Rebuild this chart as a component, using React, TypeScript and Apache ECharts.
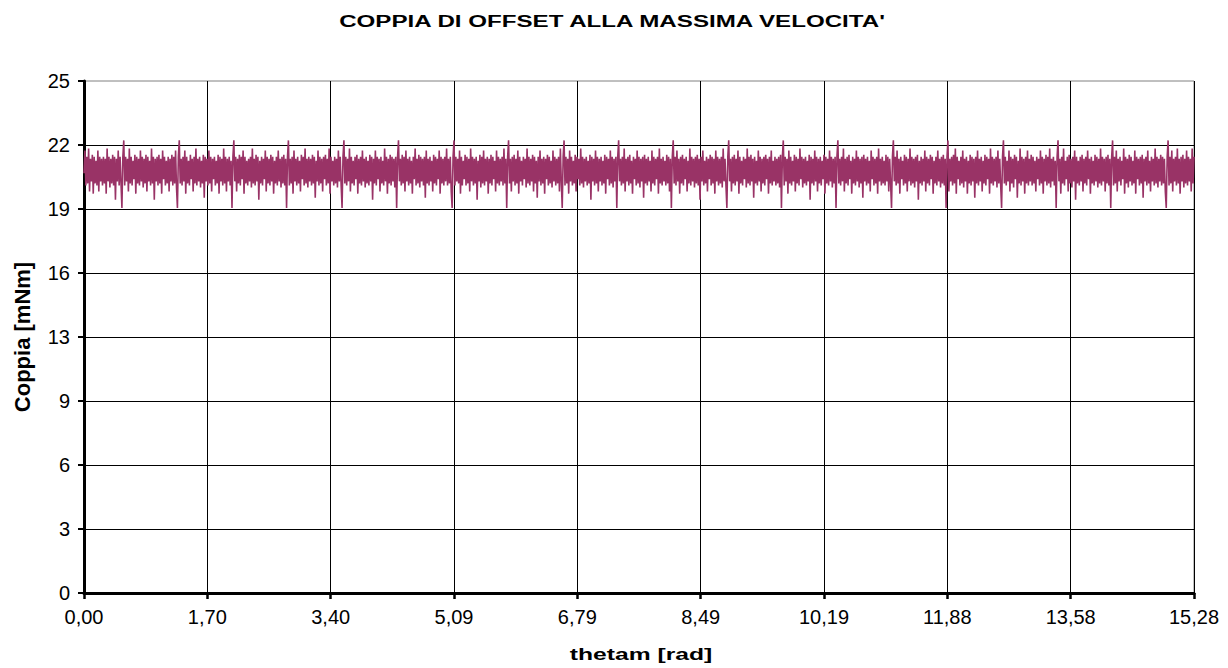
import React, { useEffect, useRef } from "react";
import * as echarts from "echarts";

const chartTitle = "COPPIA DI OFFSET ALLA MASSIMA VELOCITA'";
const xAxisName = "thetam [rad]";
const yAxisName = "Coppia [mNm]";

const thetamMin = 0;
const thetamMax = 15.28;
const xDivisions = 9;
const coppiaMin = 0;
const coppiaMax = 25;
const coppiaInterval = 3.125;

// Coppia [mNm] samples, evenly spaced over thetam 0 .. 15.28 rad (one array per ripple period)
const coppiaP00 = [
  20.5, 21.6, 19.9, 21.3, 20.0, 21.7, 19.6, 21.2, 20.1, 21.4, 19.5, 21.3, 20.0, 21.1, 19.9, 21.6, 19.6, 21.3, 20.1, 21.2,
  19.9, 21.3, 20.0, 21.2, 19.5, 21.7, 20.1, 21.3, 19.8, 21.2, 20.0, 21.4, 19.9, 21.3, 19.2, 21.2, 20.1, 21.6, 19.9, 21.3,
  20.0, 18.8, 21.3, 22.1,
];
const coppiaP01 = [
  19.9, 21.3, 20.1, 21.2, 19.6, 21.7, 20.0, 21.3, 19.9, 21.1, 20.2, 21.4, 19.5, 21.3, 20.0, 21.2, 19.9, 21.6, 20.1, 21.3,
  19.8, 21.2, 20.0, 21.4, 19.6, 21.3, 20.1, 21.1, 19.9, 21.7, 20.0, 21.3, 19.2, 21.2, 20.1, 21.3, 19.9, 21.4, 20.0, 21.2,
  19.5, 21.6, 20.2, 21.3, 19.9, 21.1, 20.0, 21.3, 19.6, 21.2, 20.1, 21.4, 19.9, 21.3, 20.0, 21.6, 19.8, 18.8, 21.3, 22.1,
];
const coppiaP02 = [
  20.0, 21.2, 19.9, 21.3, 20.1, 21.6, 19.5, 21.3, 20.0, 21.1, 19.9, 21.4, 20.2, 21.2, 19.6, 21.3, 20.0, 21.7, 19.9, 21.2,
  20.1, 21.3, 19.8, 21.1, 20.0, 21.4, 19.3, 21.3, 20.1, 21.2, 19.9, 21.6, 20.0, 21.3, 19.6, 21.2, 20.2, 21.3, 19.9, 21.1,
  20.0, 21.4, 19.5, 21.3, 20.1, 21.2, 19.9, 21.7, 20.0, 21.3, 19.6, 21.2, 20.1, 21.3, 19.9, 21.1, 18.8, 21.3, 22.1,
];
const coppiaP03 = [
  20.1, 21.3, 19.6, 21.2, 20.0, 21.4, 19.9, 21.3, 20.2, 21.6, 19.5, 21.3, 20.0, 21.1, 19.9, 21.2, 20.1, 21.3, 19.8, 21.7,
  20.0, 21.2, 19.9, 21.4, 20.1, 21.3, 19.2, 21.1, 20.0, 21.3, 19.9, 21.2, 20.2, 21.6, 19.6, 21.3, 20.0, 21.2, 19.9, 21.4,
  20.1, 21.3, 19.5, 21.1, 20.0, 21.3, 19.9, 21.6, 20.1, 21.2, 19.8, 21.3, 20.0, 21.4, 19.9, 21.2, 18.8, 21.3, 22.1,
];
const coppiaP04 = [
  19.9, 21.2, 20.0, 21.3, 19.5, 21.6, 20.1, 21.2, 19.9, 21.3, 20.0, 21.1, 19.6, 21.4, 20.2, 21.3, 19.9, 21.7, 20.0, 21.2,
  19.8, 21.3, 20.1, 21.2, 19.9, 21.4, 20.0, 21.3, 19.3, 21.1, 20.1, 21.6, 19.9, 21.3, 20.0, 21.2, 19.6, 21.3, 20.2, 21.4,
  19.9, 21.2, 20.0, 21.7, 19.5, 21.3, 20.1, 21.1, 19.9, 21.3, 20.0, 21.2, 19.8, 21.6, 20.1, 21.3, 19.9, 18.8, 21.3, 22.1,
];
const coppiaP05 = [
  20.0, 21.3, 19.9, 21.2, 20.1, 21.7, 19.6, 21.3, 20.0, 21.1, 19.9, 21.3, 20.2, 21.4, 19.5, 21.2, 20.0, 21.3, 19.9, 21.6,
  20.1, 21.2, 19.8, 21.3, 20.0, 21.1, 19.9, 21.4, 20.1, 21.3, 19.2, 21.2, 20.0, 21.6, 19.9, 21.3, 20.2, 21.2, 19.6, 21.3,
  20.0, 21.1, 19.9, 21.7, 20.1, 21.3, 19.5, 21.2, 20.0, 21.4, 19.9, 21.3, 20.1, 21.2, 19.8, 21.3, 18.8, 21.3, 22.1,
];
const coppiaP06 = [
  20.1, 21.2, 19.9, 21.4, 20.0, 21.3, 19.6, 21.6, 20.1, 21.2, 19.9, 21.3, 20.0, 21.1, 19.5, 21.3, 20.2, 21.7, 19.9, 21.2,
  20.0, 21.4, 19.8, 21.3, 20.1, 21.2, 19.9, 21.3, 19.3, 21.6, 20.0, 21.2, 19.9, 21.3, 20.1, 21.1, 19.6, 21.4, 20.0, 21.3,
  19.9, 21.2, 20.2, 21.6, 19.5, 21.3, 20.0, 21.2, 19.9, 21.3, 20.1, 21.7, 19.9, 21.2, 20.0, 21.3, 19.6, 18.8, 21.3, 22.1,
];
const coppiaP07 = [
  19.9, 21.3, 20.1, 21.2, 20.0, 21.6, 19.5, 21.3, 19.9, 21.1, 20.2, 21.4, 19.9, 21.3, 20.0, 21.2, 19.6, 21.7, 20.1, 21.3,
  19.9, 21.2, 20.0, 21.3, 19.2, 21.1, 20.1, 21.4, 19.8, 21.3, 20.0, 21.6, 19.9, 21.2, 20.1, 21.3, 19.5, 21.2, 20.0, 21.4,
  19.9, 21.3, 20.2, 21.1, 19.6, 21.6, 20.0, 21.3, 19.9, 21.2, 20.1, 21.3, 19.9, 21.7, 20.0, 21.2, 18.8, 21.3, 22.1,
];
const coppiaP08 = [
  20.0, 21.2, 19.6, 21.3, 20.1, 21.4, 19.9, 21.2, 20.0, 21.6, 19.5, 21.3, 20.1, 21.1, 19.9, 21.3, 20.2, 21.2, 19.8, 21.7,
  20.0, 21.3, 19.9, 21.2, 20.1, 21.4, 19.6, 21.3, 20.0, 21.1, 19.3, 21.3, 20.1, 21.6, 19.9, 21.2, 20.0, 21.3, 19.5, 21.2,
  20.2, 21.4, 19.9, 21.3, 20.0, 21.1, 19.8, 21.6, 20.1, 21.3, 19.9, 21.2, 20.0, 21.3, 19.6, 21.7, 20.1, 18.8, 21.3, 22.1,
];
const coppiaP09 = [
  19.9, 21.3, 20.0, 21.2, 19.5, 21.6, 20.1, 21.3, 19.9, 21.1, 20.0, 21.4, 19.6, 21.3, 20.2, 21.2, 19.9, 21.7, 20.0, 21.3,
  19.8, 21.2, 20.1, 21.3, 19.9, 21.1, 20.0, 21.4, 19.2, 21.3, 20.1, 21.2, 19.9, 21.6, 20.0, 21.3, 19.6, 21.2, 20.1, 21.3,
  19.9, 21.1, 20.0, 21.4, 19.5, 21.3, 20.2, 21.2, 19.9, 21.6, 20.0, 21.3, 19.8, 21.2, 20.1, 21.3, 18.8, 21.3, 22.1,
];
const coppiaP10 = [
  20.1, 21.2, 19.9, 21.3, 20.0, 21.7, 19.6, 21.2, 20.1, 21.3, 19.9, 21.4, 20.0, 21.1, 19.5, 21.3, 20.2, 21.2, 19.9, 21.6,
  20.0, 21.3, 19.8, 21.2, 20.1, 21.3, 19.3, 21.4, 20.0, 21.2, 19.9, 21.3, 20.1, 21.1, 19.6, 21.6, 20.0, 21.3, 19.9, 21.2,
  20.2, 21.3, 19.5, 21.7, 20.0, 21.2, 19.9, 21.3, 20.1, 21.1, 19.9, 21.4, 20.0, 21.3, 19.6, 21.2, 18.8, 21.3, 22.1,
];
const coppiaP11 = [
  20.0, 21.3, 19.9, 21.6, 20.1, 21.2, 19.5, 21.3, 20.0, 21.4, 19.9, 21.2, 20.2, 21.3, 19.6, 21.1, 20.0, 21.7, 19.9, 21.3,
  20.1, 21.2, 19.8, 21.3, 20.0, 21.4, 19.9, 21.2, 19.2, 21.3, 20.1, 21.6, 19.9, 21.1, 20.0, 21.3, 19.6, 21.2, 20.2, 21.4,
  19.9, 21.3, 20.0, 21.2, 19.5, 21.6, 20.1, 21.3, 19.9, 21.2, 20.0, 21.3, 19.8, 21.7, 20.1, 21.2, 19.9, 18.8, 21.3, 22.1,
];
const coppiaP12 = [
  20.1, 21.2, 19.6, 21.3, 20.0, 21.4, 19.9, 21.2, 20.1, 21.6, 19.5, 21.3, 20.0, 21.1, 19.9, 21.3, 20.2, 21.2, 19.8, 21.7,
  20.0, 21.3, 19.9, 21.4, 20.1, 21.2, 19.3, 21.3, 20.0, 21.1, 19.9, 21.6, 20.1, 21.3, 19.6, 21.2, 20.0, 21.3, 19.9, 21.4,
  20.2, 21.2, 19.5, 21.3, 20.0, 21.6, 19.9, 21.1, 20.1, 21.3, 19.9, 21.2, 20.0, 21.3, 19.8, 21.4, 18.8, 21.3, 22.1,
];
const coppiaP13 = [
  19.9, 21.3, 20.1, 21.2, 19.5, 21.6, 20.0, 21.3, 19.9, 21.1, 20.1, 21.4, 19.6, 21.3, 20.0, 21.2, 19.9, 21.7, 20.2, 21.3,
  19.8, 21.2, 20.0, 21.3, 19.9, 21.1, 20.1, 21.4, 19.2, 21.3, 20.0, 21.2, 19.9, 21.6, 20.1, 21.3, 19.6, 21.2, 20.0, 21.3,
  19.9, 21.1, 20.2, 21.4, 19.5, 21.3, 20.0, 21.2, 19.9, 21.6, 20.1, 21.3, 19.8, 21.2, 20.0, 21.3, 18.8, 21.3, 22.1,
];
const coppiaP14 = [
  20.0, 21.2, 19.9, 21.3, 20.1, 21.7, 19.6, 21.2, 20.0, 21.3, 19.9, 21.4, 20.2, 21.1, 19.5, 21.3, 20.0, 21.2, 19.9, 21.6,
  20.1, 21.3, 19.8, 21.2, 20.0, 21.3, 19.3, 21.4, 20.1, 21.2, 19.9, 21.3, 20.0, 21.1, 19.6, 21.6, 20.2, 21.3, 19.9, 21.2,
  20.0, 21.3, 19.5, 21.7, 20.1, 21.2, 19.9, 21.3, 20.0, 21.1, 19.9, 21.4, 20.1, 21.3, 19.6, 21.2, 20.0, 18.8, 21.3, 22.1,
];
const coppiaP15 = [
  20.1, 21.3, 19.9, 21.6, 20.0, 21.2, 19.5, 21.3, 20.2, 21.1, 19.9, 21.4, 20.0, 21.3, 19.6, 21.2, 20.1, 21.7, 19.9, 21.3,
  20.0, 21.2, 19.8, 21.3, 20.1, 21.4, 19.2, 21.1, 20.0, 21.3, 19.9, 21.2, 20.1, 21.6, 19.6, 21.3, 20.0, 21.2, 19.9, 21.4,
  20.2, 21.3, 19.5, 21.1, 20.0, 21.3, 19.9, 21.6, 20.1, 21.2, 19.8, 21.3, 20.0, 21.4, 19.9, 21.2, 18.8, 21.3, 22.1,
];
const coppiaP16 = [
  19.6, 21.2, 20.1, 21.3, 19.9, 21.4, 20.0, 21.7, 19.5, 21.3, 20.2, 21.1, 19.9, 21.3, 20.0, 21.6, 19.8, 21.2, 20.1, 21.3,
  19.5, 21.1, 20.0, 21.4, 19.9, 21.3, 20.1, 21.2, 19.3, 21.3, 20.0, 21.6, 19.9, 21.2, 20.1, 21.3, 19.6, 21.1, 20.0, 21.4,
  19.9, 21.3, 20.2, 21.2, 19.5, 21.7, 20.0, 21.3, 19.9, 21.2, 20.1, 21.3, 19.8, 21.6, 20.0, 21.2, 19.9, 18.8, 21.3, 22.1,
];
const coppiaP17 = [
  20.0, 21.3, 19.9, 21.1, 20.1, 21.6, 19.6, 21.3, 20.0, 21.2, 19.8, 21.4, 20.2, 21.3, 19.3, 21.1, 20.0, 21.7, 19.9, 21.3,
  20.1, 21.2, 19.5, 21.3, 20.0, 21.6, 19.9, 21.2, 20.1, 21.4, 19.9, 21.3, 20.0, 21.1, 19.6, 21.3, 20.2, 21.2, 19.9, 21.6,
  20.0, 21.3, 19.5, 21.2, 20.1, 21.4, 19.9, 21.3, 20.0, 21.7, 19.8, 21.2, 20.1, 21.3, 19.9, 21.1, 18.8, 21.3, 22.1,
];
const coppiaP18 = [
  20.1, 21.2, 19.5, 21.3, 20.0, 21.7, 19.9, 21.1, 20.2, 21.3, 19.6, 21.4, 20.0, 21.2, 19.8, 21.3, 20.1, 21.6, 19.2, 21.3,
  20.0, 21.1, 19.9, 21.3, 20.1, 21.4, 19.6, 21.2, 20.0, 21.3, 19.9, 21.6, 20.2, 21.2, 19.5, 21.3, 20.0, 21.1, 19.9, 21.4,
  20.1, 21.3, 19.8, 21.2, 20.0, 21.7, 19.9, 21.3, 20.1, 21.2, 19.6, 21.3, 20.0, 21.4, 19.9, 21.2, 18.8, 21.3, 22.1,
];
const coppiaP19 = [
  19.9, 21.3, 20.0, 21.6, 19.6, 21.2, 20.1, 21.3, 19.9, 21.1, 20.2, 21.7, 19.5, 21.3, 20.0, 21.2, 19.8, 21.4, 20.1, 21.3,
  19.9, 21.1, 20.0, 21.6, 19.5, 21.3, 20.2, 21.2, 19.9, 21.3, 20.0, 21.4, 19.3, 21.2, 20.1, 21.3, 19.9, 21.6, 20.0, 21.1,
  19.6, 21.3, 20.1, 21.2, 19.9, 21.7, 20.0, 21.3, 19.8, 21.2, 20.1, 21.4, 19.9, 21.3, 20.0, 21.2, 19.6, 18.8, 21.3, 22.1,
];
const coppiaP20 = [
  19.9, 21.3, 20.0, 21.6, 19.6, 21.2, 20.1, 21.3, 19.9, 21.7, 20.0, 21.2, 19.5, 21.3, 20.1, 21.4, 19.8, 21.2, 20.0, 21.6,
  19.9, 21.3, 20.1, 21.2, 19.6, 21.7, 20.0, 21.3,
];

const coppia = [
  ...coppiaP00, ...coppiaP01, ...coppiaP02, ...coppiaP03, ...coppiaP04, ...coppiaP05, ...coppiaP06,
  ...coppiaP07, ...coppiaP08, ...coppiaP09, ...coppiaP10, ...coppiaP11, ...coppiaP12, ...coppiaP13,
  ...coppiaP14, ...coppiaP15, ...coppiaP16, ...coppiaP17, ...coppiaP18, ...coppiaP19, ...coppiaP20,
];

const FONT = '"Liberation Sans", Arial, Helvetica, sans-serif';

export default function App() {
  const ref = useRef<HTMLDivElement>(null);

  useEffect(() => {
    if (!ref.current) return;
    const chart = echarts.init(ref.current, null, { renderer: "svg" });
    const step = (thetamMax - thetamMin) / (coppia.length - 1);
    const seriesData = coppia.map((v, i) => [thetamMin + i * step, v]);

    chart.setOption({
      animation: false,
      backgroundColor: "#ffffff",
      grid: {
        left: 84,
        right: 34,
        top: 81,
        bottom: 75,
        show: true,
        borderColor: "#808080",
        borderWidth: 1,
        backgroundColor: "transparent",
      },
      xAxis: {
        type: "value",
        min: thetamMin,
        max: thetamMax,
        interval: (thetamMax - thetamMin) / xDivisions,
        axisLine: { show: true, onZero: false, lineStyle: { color: "#000", width: 3 } },
        axisTick: { show: true, inside: false, length: 6, lineStyle: { color: "#000", width: 2.5 } },
        axisLabel: {
          color: "#000",
          fontFamily: FONT,
          fontSize: 20,
          margin: 14,
          showMaxLabel: true,
          formatter: (v: number) => v.toFixed(2).replace(".", ","),
        },
        splitLine: { show: true, showMaxLine: false, lineStyle: { color: "#000", width: 1 } },
      },
      yAxis: {
        type: "value",
        min: coppiaMin,
        max: coppiaMax,
        interval: coppiaInterval,
        axisLine: { show: true, onZero: false, lineStyle: { color: "#000", width: 3 } },
        axisTick: { show: true, inside: false, length: 6, lineStyle: { color: "#000", width: 2 } },
        axisLabel: {
          color: "#000",
          fontFamily: FONT,
          fontSize: 20,
          margin: 14,
          formatter: (v: number) => String(Math.round(v)),
        },
        splitLine: { show: true, showMaxLine: false, lineStyle: { color: "#000", width: 1 } },
      },
      graphic: [
        {
          type: "text",
          x: 612,
          y: 21,
          scaleX: 1.42,
          style: {
            text: chartTitle,
            fill: "#000",
            fontFamily: FONT,
            fontWeight: "bold",
            fontSize: 17,
            textAlign: "center",
            textVerticalAlign: "middle",
            align: "center",
            verticalAlign: "middle",
          },
        },
        {
          type: "text",
          x: 641,
          y: 654,
          scaleX: 1.45,
          style: {
            text: xAxisName,
            fill: "#000",
            fontFamily: FONT,
            fontWeight: "bold",
            fontSize: 17,
            textAlign: "center",
            textVerticalAlign: "middle",
            align: "center",
            verticalAlign: "middle",
          },
        },
        {
          type: "text",
          x: 22,
          y: 337,
          rotation: Math.PI / 2,
          style: {
            text: yAxisName,
            fill: "#000",
            fontFamily: FONT,
            fontWeight: "bold",
            fontSize: 22,
            textAlign: "center",
            textVerticalAlign: "middle",
            align: "center",
            verticalAlign: "middle",
          },
        },
      ],
      series: [
        {
          type: "line",
          data: seriesData,
          showSymbol: false,
          symbol: "none",
          silent: true,
          lineStyle: { color: "#993366", width: 1.6, join: "bevel" },
          itemStyle: { color: "#993366" },
          z: 3,
        },
      ],
    });

    return () => {
      chart.dispose();
    };
  }, []);

  return (
    <div
      ref={ref}
      style={{ position: "absolute", left: 0, top: 0, width: 1228, height: 668, background: "#fff" }}
    />
  );
}
